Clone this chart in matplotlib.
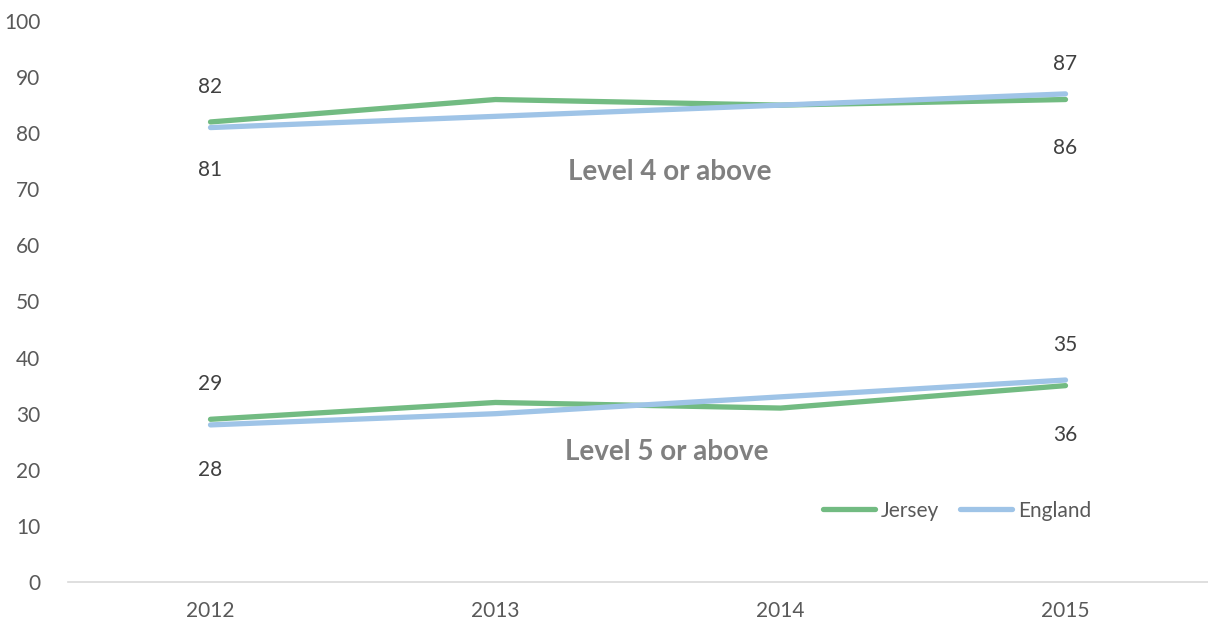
import numpy as np
import matplotlib.pyplot as plt

plt.rcParams['font.family'] = ['Lato', 'DejaVu Sans']

years = ['2012', '2013', '2014', '2015']

jersey_l4 = [82, 86, 85, 86]
england_l4 = [81, 83, 85, 87]
jersey_l5 = [29, 32, 31, 35]
england_l5 = [28, 30, 33, 36]

GREEN = '#72bb82'
BLUE = '#9fc4e7'
LABEL = '#404040'
TICK = '#595959'
FS = 15

fig = plt.figure(figsize=(12.08, 6.26), dpi=100)
ax = fig.add_axes([0.0563, 0.0703, 0.9437, 0.8962])

x = np.arange(len(years))
ax.plot(x, jersey_l4, color=GREEN, lw=3.8, solid_capstyle='round', label='Jersey')
ax.plot(x, england_l4, color=BLUE, lw=3.8, solid_capstyle='round', label='England')
ax.plot(x, jersey_l5, color=GREEN, lw=3.8, solid_capstyle='round')
ax.plot(x, england_l5, color=BLUE, lw=3.8, solid_capstyle='round')

# end-point labels: (series, index, vertical offset in pixels)
labels = [
    (jersey_l4, 0, 35), (england_l4, 0, -42),
    (england_l4, 3, 30), (jersey_l4, 3, -48),
    (jersey_l5, 0, 35), (england_l5, 0, -45),
    (jersey_l5, 3, 41), (england_l5, 3, -55),
]
for series, i, dy in labels:
    ax.annotate(str(series[i]), (x[i], series[i]), xytext=(0, dy * 0.72),
                textcoords='offset points', ha='center', va='center',
                fontsize=FS, color=LABEL)

ax.text(1.61, 73, 'Level 4 or above', ha='center', va='center',
        fontsize=20, fontweight='bold', color='#808080')
ax.text(1.60, 23.2, 'Level 5 or above', ha='center', va='center',
        fontsize=20, fontweight='bold', color='#808080')

ax.set_xlim(-0.5, 3.5)
ax.set_ylim(0, 100)
ax.set_xticks(x)
ax.set_xticklabels(years)
ax.set_yticks(range(0, 101, 10))
ax.tick_params(axis='both', length=0, labelsize=FS, labelcolor=TICK)
ax.tick_params(axis='y', pad=20)
ax.tick_params(axis='x', pad=14)
for side in ['top', 'right', 'left']:
    ax.spines[side].set_visible(False)
ax.spines['bottom'].set_color('#d9d9d9')
ax.spines['bottom'].set_linewidth(1.2)

leg = ax.legend(loc='center', bbox_to_anchor=(0.78, 0.127), ncol=2, frameon=False,
                fontsize=FS, labelcolor=TICK, handlelength=2.5, handletextpad=0.3,
                columnspacing=1.0)

fig.savefig('out.png', dpi=100)
